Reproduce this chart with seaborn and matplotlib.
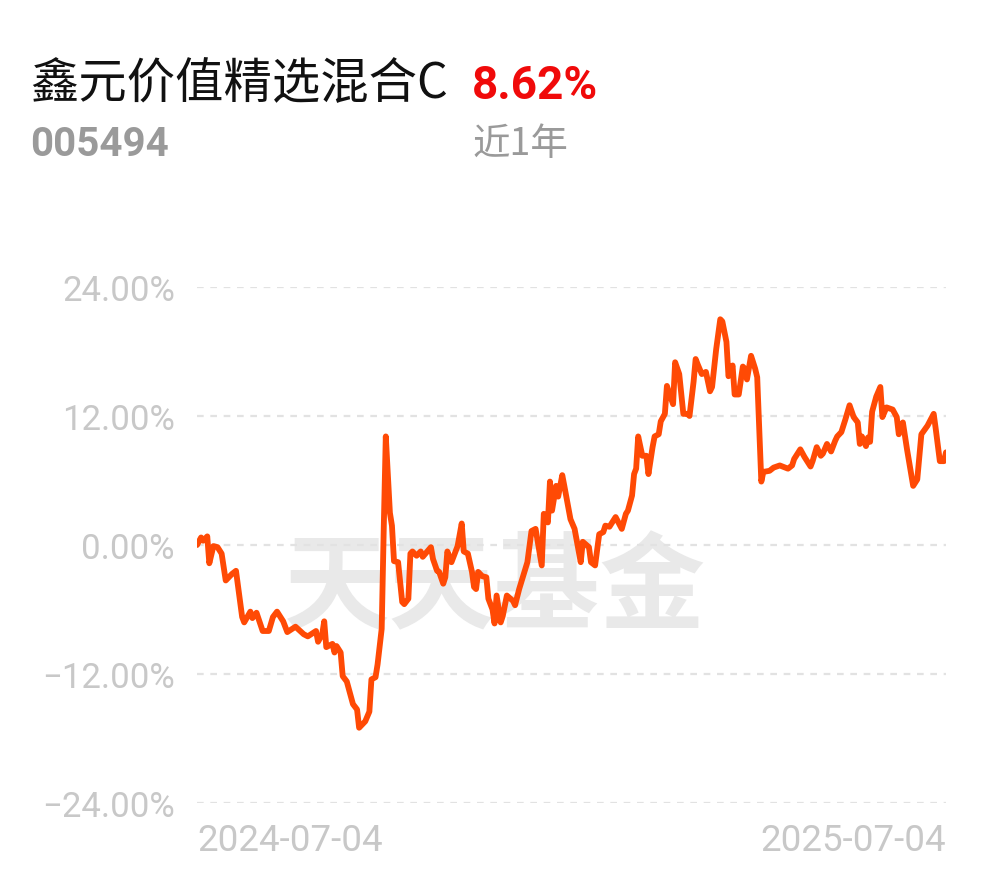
import numpy as np
import pandas as pd
import matplotlib
matplotlib.use("Agg")
import matplotlib.pyplot as plt
import seaborn as sns
from matplotlib.ticker import FuncFormatter

# Fund info
FUND_NAME = "鑫元价值精选混合C"
FUND_CODE = "005494"
PERIOD_LABEL = "近1年"
PERIOD_RETURN = "8.62%"

START_DATE = "2024-07-04"
END_DATE = "2025-07-04"

# days since start date
day_offsets = [
    0, 2, 3, 5, 6, 8, 10, 12, 14, 17, 19, 22, 23, 26, 27, 29, 32, 35, 37, 39,
    42, 44, 48, 52, 54, 58, 59, 61, 62, 63, 66, 67, 68, 70, 71, 73, 76, 78, 79, 82,
    84, 85, 87, 88, 90, 91, 92, 94, 95, 96, 98, 100, 101, 103, 104, 105, 107, 109, 110, 114,
    115, 117, 118, 120, 121, 122, 124, 126, 127, 129, 130, 132, 134, 135, 136, 137, 139, 141, 142, 144,
    145, 146, 148, 149, 151, 154, 155, 157, 161, 163, 165, 168, 169, 171, 172, 173, 175, 176, 178, 179,
    182, 184, 187, 188, 191, 192, 194, 196, 198, 199, 201, 204, 207, 209, 210, 212, 213, 214, 215, 217,
    219, 220, 222, 223, 225, 226, 228, 229, 230, 232, 233, 235, 237, 239, 240, 242, 243, 244, 246, 248,
    250, 251, 253, 255, 256, 258, 259, 261, 262, 264, 266, 267, 268, 270, 272, 273, 275, 276, 279, 281,
    284, 288, 290, 291, 294, 296, 299, 300, 302, 304, 305, 307, 309, 311, 312, 314, 316, 318, 320, 322,
    323, 324, 326, 327, 328, 329, 331, 333, 334, 336, 339, 341, 342, 344, 346, 349, 351, 353, 356, 359,
    360, 362, 364, 365,
]

# cumulative return (%)
returns = [
    0.0, 0.7, 0.4, 0.8, -1.7, -0.1, -0.2, -0.8, -3.3, -2.7, -2.4, -6.7, -7.2, -6.2, -6.8, -6.3, -8.0, -8.0, -6.7, -6.2,
    -7.1, -8.1, -7.6, -8.3, -8.5, -8.0, -9.0, -8.3, -7.1, -9.5, -9.2, -10.0, -9.4, -10.0, -12.2, -12.7, -14.8, -15.3, -17.0, -16.4,
    -15.5, -12.5, -12.3, -11.1, -7.8, 1.5, 10.1, 3.0, 1.8, -1.5, -1.6, -5.3, -5.5, -5.0, -0.8, -0.6, -1.0, -0.6, -1.1, -0.2,
    -1.3, -2.4, -2.5, -3.6, -3.0, -0.6, -1.6, -0.6, -0.1, 2.0, -0.6, -0.8, -2.5, -3.9, -4.1, -2.5, -2.9, -3.0, -5.0, -6.0,
    -7.3, -4.7, -7.2, -6.6, -4.7, -5.2, -5.6, -4.1, -1.6, 1.3, 1.5, -1.9, 2.9, 2.1, 5.9, 3.2, 5.5, 4.5, 6.5, 5.5,
    2.4, 1.5, -1.6, 0.3, -0.2, -1.6, -1.9, 1.0, 1.2, 1.8, 1.7, 2.6, 1.5, 2.9, 3.2, 4.6, 6.6, 7.1, 10.1, 8.3,
    8.3, 6.6, 9.1, 10.1, 10.3, 11.5, 12.2, 14.8, 14.2, 13.1, 17.0, 15.9, 12.2, 12.2, 12.0, 15.2, 17.3, 16.8, 15.9, 16.1,
    14.3, 14.7, 18.2, 21.0, 20.8, 18.9, 15.7, 16.7, 14.0, 14.0, 16.6, 16.4, 15.4, 17.6, 16.4, 15.6, 5.9, 6.8, 6.9, 7.2,
    7.4, 7.1, 7.4, 8.0, 8.9, 8.2, 7.3, 7.8, 9.1, 8.3, 8.5, 9.4, 8.7, 9.7, 10.1, 10.5, 11.7, 13.0, 11.9, 11.4,
    9.4, 10.1, 9.2, 10.0, 9.6, 12.4, 13.8, 14.7, 11.9, 12.8, 12.6, 11.9, 10.3, 11.4, 8.9, 5.5, 6.1, 10.3, 11.1, 12.2,
    10.8, 7.8, 7.8, 8.62,
]

y_ticks = [-24, -12, 0, 12, 24]

LINE_COLOR = "#ff4a05"
TICK_COLOR = "#c8c8c8"
GRID_COLOR = "#e2e2e2"


def build_frame():
    start = pd.Timestamp(START_DATE)
    dates = start + pd.to_timedelta(day_offsets, unit="D")
    return pd.DataFrame({"date": dates, "ret": returns})


def main():
    sns.set_theme(style="white")
    plt.rcParams["font.family"] = ["Roboto", "Noto Sans CJK SC", "DejaVu Sans"]
    plt.rcParams["axes.unicode_minus"] = True

    df = build_frame()

    fig = plt.figure(figsize=(9.9, 8.78), dpi=100)
    ax = fig.add_axes([197 / 990, 1 - 804 / 878, 749 / 990, 516 / 878])

    # watermark behind the line
    ax.text(0.398, 0.415, "天天基金", transform=ax.transAxes, ha="center", va="center",
            fontsize=76, fontweight="heavy", color="#e9e9e9", family=["Noto Sans CJK SC"], zorder=0)

    sns.lineplot(data=df, x="date", y="ret", ax=ax, color=LINE_COLOR, linewidth=4.2, zorder=3)

    ax.set_xlim(pd.Timestamp(START_DATE), pd.Timestamp(END_DATE))
    ax.set_ylim(-24, 24)
    ax.set_yticks(y_ticks)
    ax.yaxis.set_major_formatter(FuncFormatter(lambda v, _: f"{v:.2f}%".replace("-", "\u2212")))
    ax.set_xticks([pd.Timestamp(START_DATE), pd.Timestamp(END_DATE)])
    ax.set_xticklabels([START_DATE, END_DATE])
    labels = ax.get_xticklabels()
    labels[0].set_horizontalalignment("left")
    labels[1].set_horizontalalignment("right")

    ax.tick_params(axis="both", length=0, colors=TICK_COLOR)
    ax.tick_params(axis="y", pad=16, labelsize=25)
    ax.tick_params(axis="x", pad=14, labelsize=26.5)
    ax.set_xlabel("")
    ax.set_ylabel("")

    for y in y_ticks:
        ax.axhline(y, color=GRID_COLOR, linewidth=1.6, linestyle=(0, (3, 3)), zorder=1)

    for s in ax.spines.values():
        s.set_visible(False)

    # header texts
    fig.text(30 / 990, 1 - 84 / 878, FUND_NAME, ha="left", va="center", fontsize=34.8,
             color="#111111", family=["Noto Sans CJK SC", "DejaVu Sans"])
    fig.text(472 / 990, 1 - 86 / 878, PERIOD_RETURN, ha="left", va="center", fontsize=33,
             fontweight="bold", color="#f00a0a", family=["Roboto", "DejaVu Sans"])
    fig.text(30 / 990, 1 - 145 / 878, FUND_CODE, ha="left", va="center", fontsize=29,
             fontweight="bold", color="#9a9a9a", family=["Roboto", "DejaVu Sans"])
    fig.text(472 / 990, 1 - 145 / 878, PERIOD_LABEL, ha="left", va="center", fontsize=27,
             color="#9a9a9a", family=["Noto Sans CJK SC", "DejaVu Sans"])

    fig.savefig("out.png", dpi=100, facecolor="white")
    plt.close(fig)


if __name__ == "__main__":
    main()
